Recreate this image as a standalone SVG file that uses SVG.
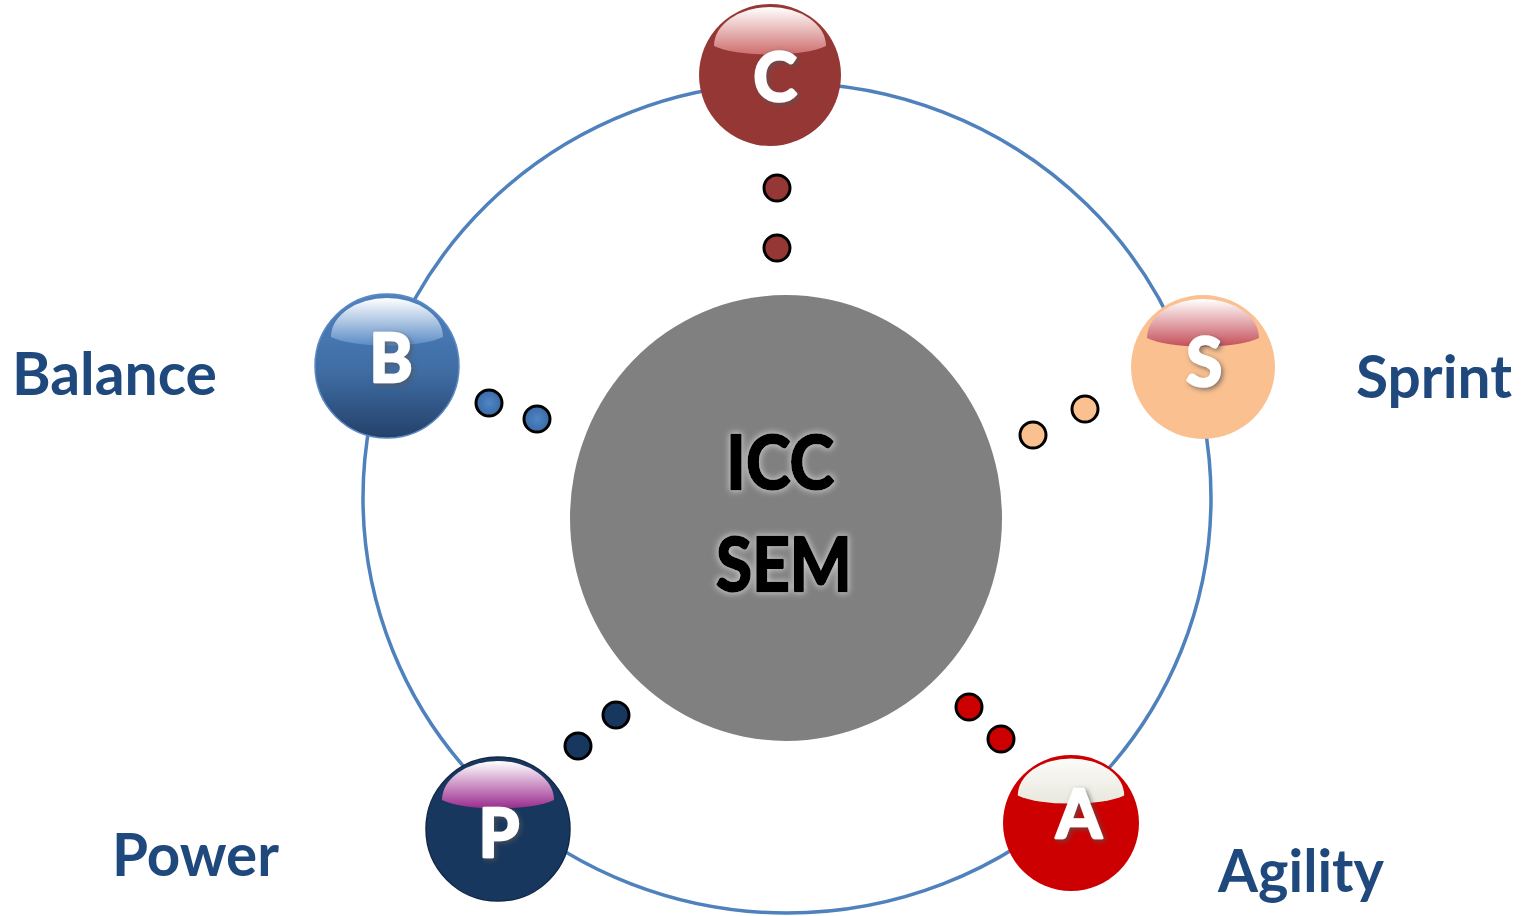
<svg xmlns="http://www.w3.org/2000/svg" width="1526" height="916" viewBox="0 0 1526 916">
  <style>
    .ring { fill: none; stroke: #4f81bd; stroke-width: 3.5; }
    .dot { stroke: #000; stroke-width: 3; }
    .letter { font-family: Lato, "Open Sans", sans-serif; font-weight: bold; font-size: 66px; fill: #fff; stroke: #fff; stroke-width: 2.5; stroke-linejoin: round; text-anchor: middle; filter: url(#letterShadow); }
    .core { font-family: Lato, "Open Sans", sans-serif; font-weight: bold; font-size: 75px; fill: #000; stroke: #000; stroke-width: 2.5; stroke-linejoin: round; text-anchor: middle; filter: url(#coreGlow); }
    .label { font-family: Lato, "Open Sans", sans-serif; font-weight: bold; font-size: 60px; fill: #1f497d; }
  </style>
  <defs>
    <!-- glossy cap drawn at the top of every ball, relative to the ball centre -->
    <path id="gloss" d="M-56,-29 A56,39 0 0 1 56,-29 A62,15 0 0 1 -56,-29 Z"/>
    <linearGradient id="glossC" x1="0" y1="0" x2="0" y2="1">
      <stop offset="0" stop-color="#ffffff"/><stop offset="1" stop-color="#cf6e6e"/>
    </linearGradient>
    <linearGradient id="glossS" x1="0" y1="0" x2="0" y2="1">
      <stop offset="0" stop-color="#ffffff"/><stop offset="1" stop-color="#c54e58"/>
    </linearGradient>
    <linearGradient id="glossB" x1="0" y1="0" x2="0" y2="1">
      <stop offset="0" stop-color="#ffffff"/><stop offset="1" stop-color="#5b8bc6"/>
    </linearGradient>
    <linearGradient id="glossP" x1="0" y1="0" x2="0" y2="1">
      <stop offset="0" stop-color="#ffffff"/><stop offset="1" stop-color="#9a2a8e"/>
    </linearGradient>
    <linearGradient id="glossA" x1="0" y1="0" x2="0" y2="1">
      <stop offset="0" stop-color="#fbfbf8"/><stop offset="1" stop-color="#e9e8de"/>
    </linearGradient>
    <linearGradient id="bodyB" x1="0" y1="0" x2="0" y2="1">
      <stop offset="0" stop-color="#4f82bf"/><stop offset="0.55" stop-color="#3f6ca3"/><stop offset="1" stop-color="#23416a"/>
    </linearGradient>
    <radialGradient id="dotB" cx="0.5" cy="0.5" r="0.5">
      <stop offset="0" stop-color="#4f86c6"/><stop offset="1" stop-color="#3a6aa5"/>
    </radialGradient>
    <filter id="letterShadow" x="-30%" y="-30%" width="160%" height="160%">
      <feGaussianBlur in="SourceAlpha" stdDeviation="2.5"/>
      <feOffset dx="2" dy="2" result="b"/>
      <feFlood flood-color="#555" flood-opacity="0.75"/>
      <feComposite in2="b" operator="in"/>
      <feMerge><feMergeNode/><feMergeNode in="SourceGraphic"/></feMerge>
    </filter>
    <filter id="coreGlow" x="-20%" y="-20%" width="140%" height="140%">
      <feMorphology in="SourceAlpha" operator="dilate" radius="1"/>
      <feGaussianBlur stdDeviation="3" result="b"/>
      <feFlood flood-color="#d8d8d8" flood-opacity="0.8"/>
      <feComposite in2="b" operator="in"/>
      <feMerge><feMergeNode/><feMergeNode in="SourceGraphic"/></feMerge>
    </filter>
  </defs>

  <rect width="1526" height="916" fill="#fff"/>

  <!-- orbit ring -->
  <g id="connectors">
    <ellipse class="ring" cx="787" cy="498" rx="424" ry="415"/>
    <!-- dotted links from each ball toward the core -->
    <circle class="dot" cx="777" cy="188" r="13" fill="#953735"/>
    <circle class="dot" cx="777" cy="248" r="13" fill="#953735"/>
    <circle class="dot" cx="489" cy="403" r="13" fill="url(#dotB)"/>
    <circle class="dot" cx="537" cy="419" r="13" fill="url(#dotB)"/>
    <circle class="dot" cx="1085" cy="409" r="13" fill="#fac090"/>
    <circle class="dot" cx="1033" cy="435" r="13" fill="#fac090"/>
    <circle class="dot" cx="616" cy="715" r="13" fill="#17375e"/>
    <circle class="dot" cx="578" cy="746" r="13" fill="#17375e"/>
    <circle class="dot" cx="969" cy="707" r="13" fill="#cc0000"/>
    <circle class="dot" cx="1001" cy="739" r="13" fill="#cc0000"/>
  </g>

  <!-- core -->
  <g id="core">
    <ellipse cx="786" cy="518" rx="216" ry="223" fill="#808080"/>
    <text class="core" x="780" y="489" textLength="108" lengthAdjust="spacingAndGlyphs">ICC</text>
    <text class="core" x="784" y="591" textLength="136" lengthAdjust="spacingAndGlyphs">SEM</text>
  </g>

  <g id="ball-c" transform="translate(770,75)">
    <circle r="71" fill="#953735"/>
    <use href="#gloss" fill="url(#glossC)"/>
    <text class="letter" x="5" y="26">C</text>
  </g>

  <g id="ball-s" transform="translate(1203,367)">
    <circle r="72" fill="#fac090"/>
    <use href="#gloss" fill="url(#glossS)"/>
    <text class="letter" x="1" y="19">S</text>
  </g>

  <g id="ball-b" transform="translate(387,366)">
    <circle r="72" fill="url(#bodyB)" stroke="#5a88c2" stroke-width="1.5"/>
    <use href="#gloss" fill="url(#glossB)"/>
    <text class="letter" x="4" y="16">B</text>
  </g>

  <g id="ball-p" transform="translate(498,829)">
    <circle r="72" fill="#17375e" stroke="#10294a" stroke-width="1.5"/>
    <use href="#gloss" fill="url(#glossP)"/>
    <text class="letter" x="1" y="28">P</text>
  </g>

  <g id="ball-a" transform="translate(1071,823)">
    <circle r="68" fill="#cc0000"/>
    <use href="#gloss" fill="url(#glossA)" transform="scale(0.95)"/>
    <text class="letter" x="8" y="15">A</text>
  </g>

  <g id="labels">
    <text class="label" x="12" y="395" textLength="205" lengthAdjust="spacingAndGlyphs">Balance</text>
    <text class="label" x="1356" y="398" textLength="156" lengthAdjust="spacingAndGlyphs">Sprint</text>
    <text class="label" x="112" y="876" textLength="167" lengthAdjust="spacingAndGlyphs">Power</text>
    <text class="label" x="1218" y="892" textLength="166" lengthAdjust="spacingAndGlyphs">Agility</text>
  </g>
</svg>
